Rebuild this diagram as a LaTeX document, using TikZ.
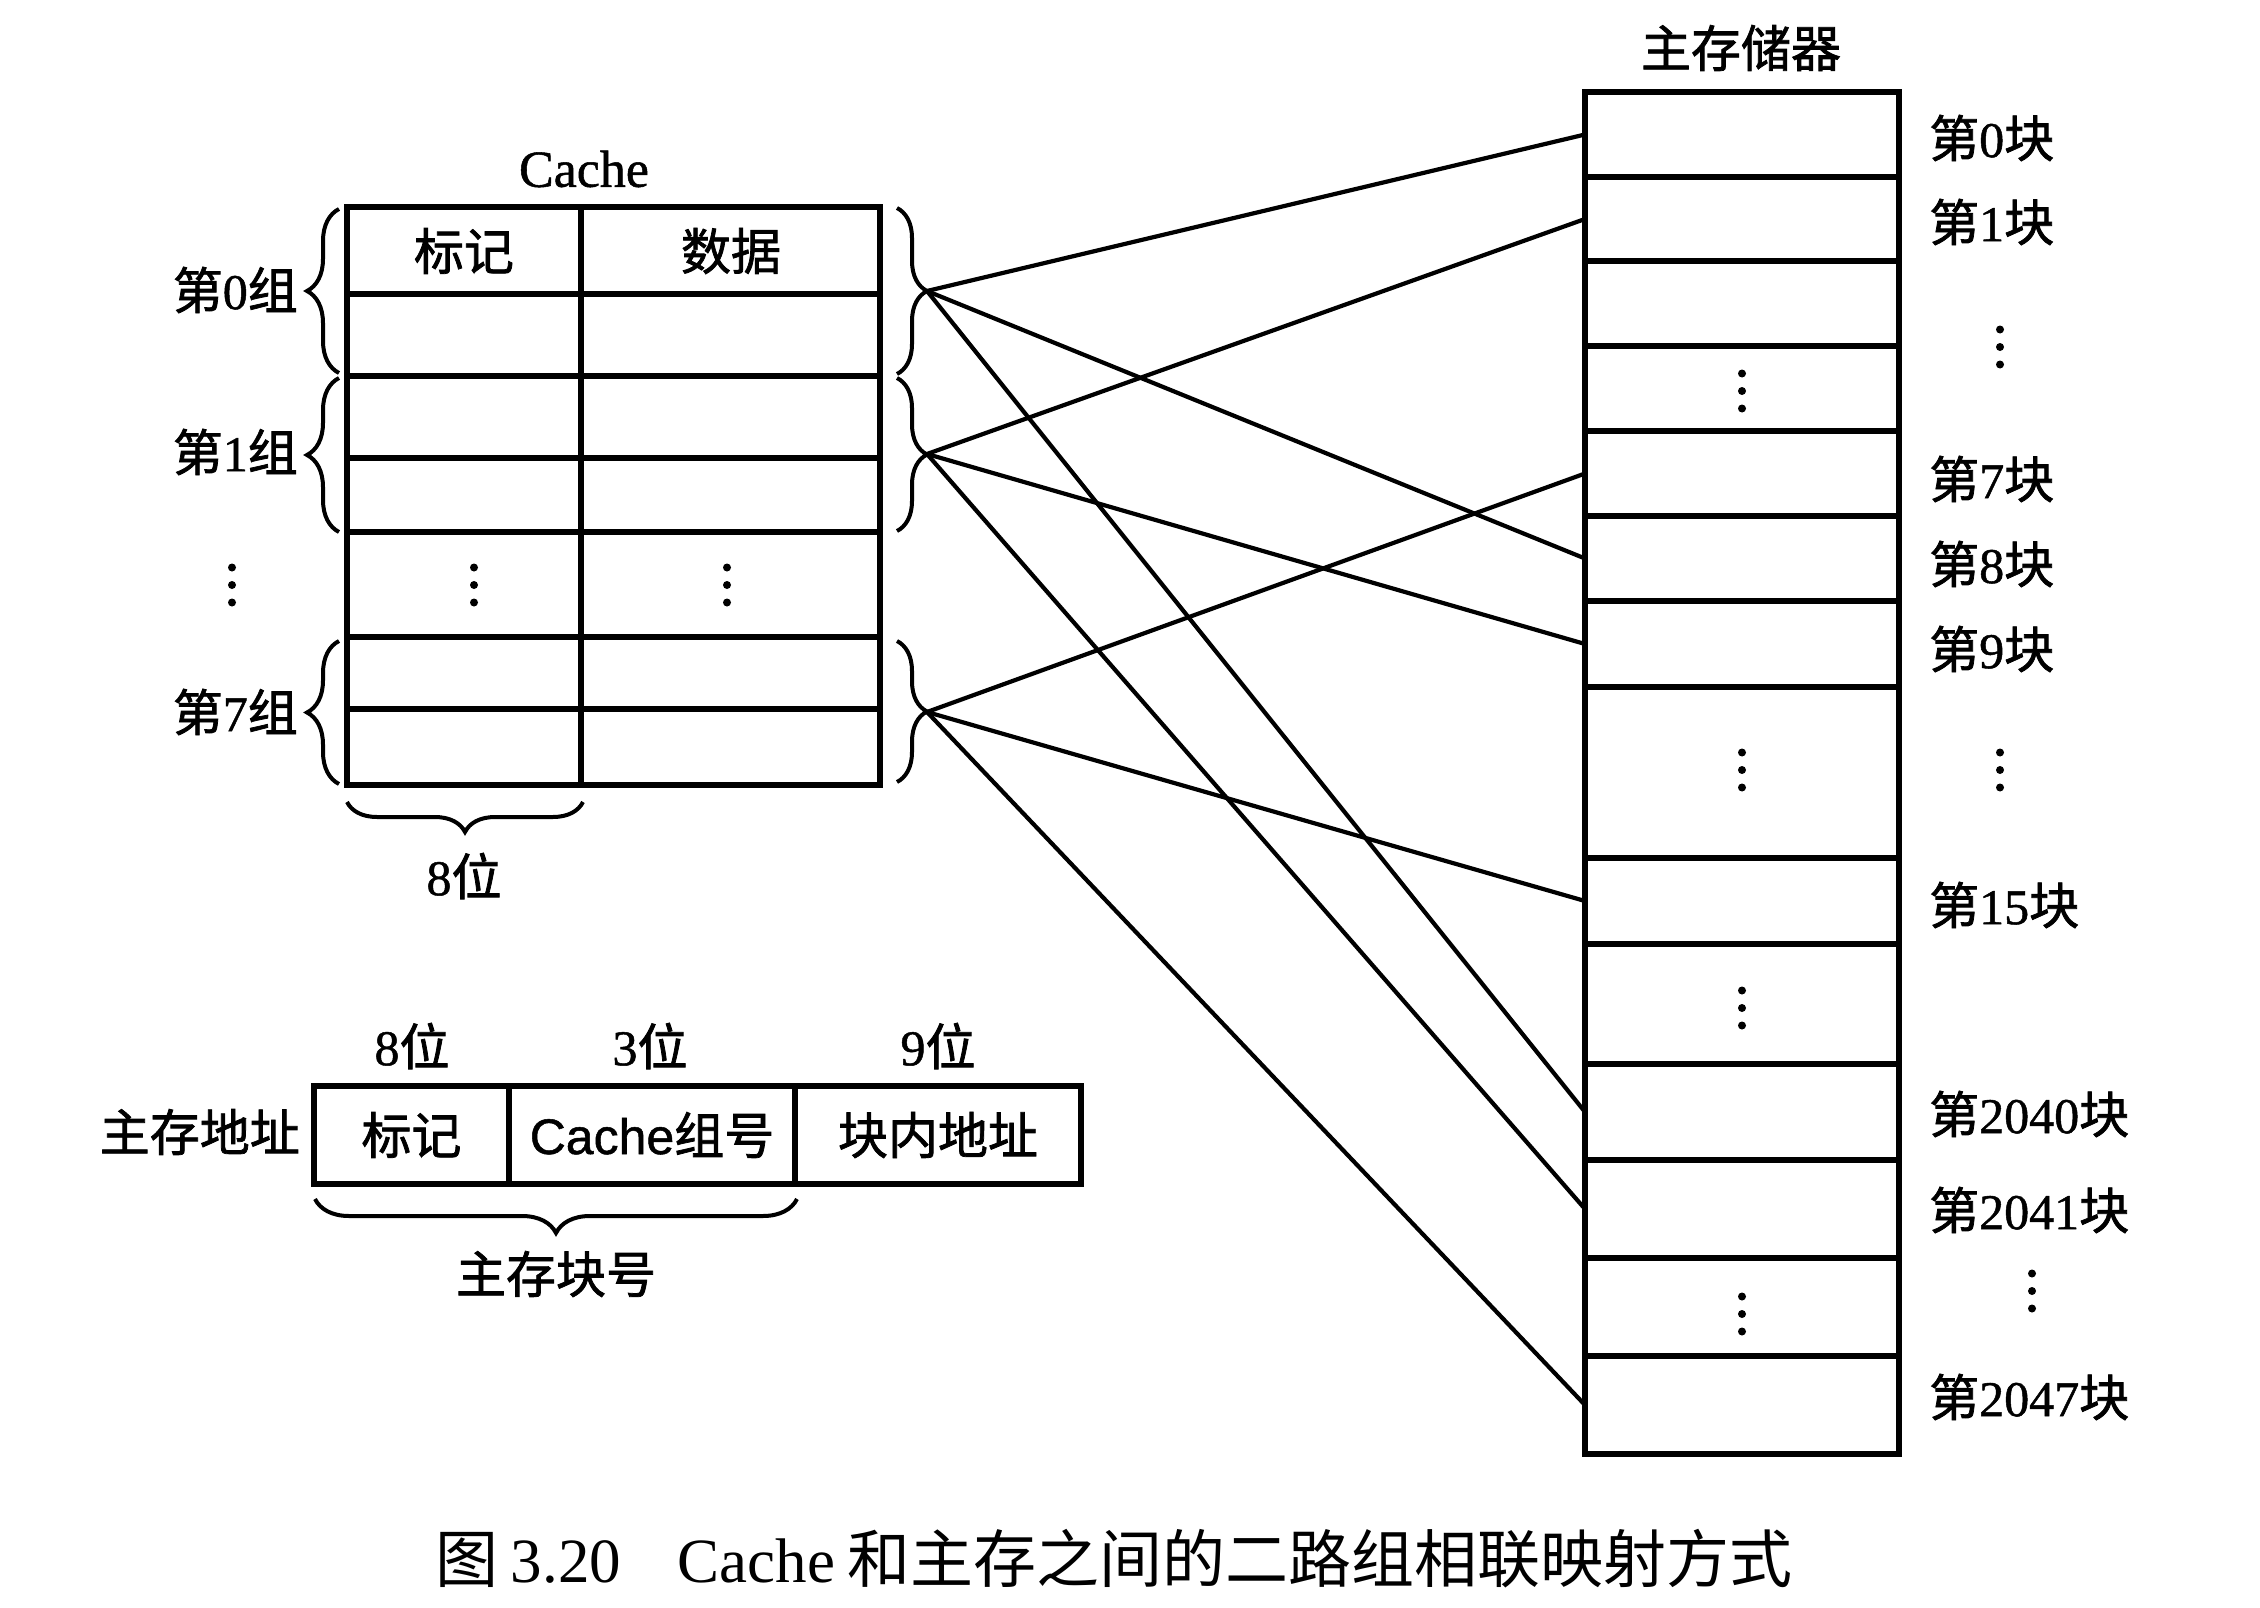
\documentclass[tikz,border=0pt]{standalone}
\usepackage{fontspec}
\setmainfont{Liberation Serif}[FakeBold=1]
\newfontfamily\zhfont{Noto Sans CJK SC}[FakeBold=1.5]
\newfontfamily\arialfont{Liberation Sans}[FakeBold=1]
\newfontfamily\capzh{Noto Sans CJK SC}
\newfontfamily\caplat{Liberation Serif}
\usetikzlibrary{decorations.pathreplacing}
\newcommand\zh[1]{{\zhfont #1}}
\newcommand\vdotsat[2]{\fill (#1,#2-17.5) circle (4pt) (#1,#2) circle (4pt) (#1,#2+17.5) circle (4pt);}
\begin{document}
\begin{tikzpicture}[x=1pt,y=-1pt,
  cell/.style={draw, line width=6pt, outer sep=0pt, inner sep=0pt, anchor=north west,
               font=\fontsize{50}{60}\selectfont},
  txt/.style={inner sep=0pt, font=\fontsize{50}{60}\selectfont},
  lbl/.style={txt, anchor=west},
  conn/.style={line width=4.2pt},
  brc/.style={decorate, decoration={brace, amplitude=#1pt}, line width=4pt},
]
\useasboundingbox (0,0) rectangle (2260,1608);
\fill[white] (0,0) rectangle (2260,1608);

% ---------------- Cache ----------------
\node[txt, font=\fontsize{52}{60}\selectfont] (ctitle) at (584,169) {Cache};
\foreach \n/\t/\b in {1/207/294,2/294/376,3/376/458,4/458/532,5/532/637,6/637/709,7/709/785}{
  \node[cell, minimum width=234pt, minimum height={(\b-\t)*1pt}] (cL\n) at (347,\t) {};
  \node[cell, minimum width=299pt, minimum height={(\b-\t)*1pt}] (cR\n) at (581,\t) {};
}
\node[txt] (hTag) at (464,251) {\zh{标记}};
\node[txt] (hData) at (731,251) {\zh{数据}};
\vdotsat{474}{585}
\vdotsat{727}{585}

% group labels
\node[txt, anchor=east] (gl0) at (298,290) {\zh{第}0\zh{组}};
\node[txt, anchor=east] (gl1) at (298,452) {\zh{第}1\zh{组}};
\node[txt, anchor=east] (gl7) at (298,712) {\zh{第}7\zh{组}};
\vdotsat{232}{585}

% left braces
\draw[brc=32] (339,373) -- (339,209);
\draw[brc=32] (339,532) -- (339,378);
\draw[brc=32] (339,784) -- (339,641);
% right braces
\draw[brc=30] (897,208) -- (897,374);
\draw[brc=30] (897,378) -- (897,531);
\draw[brc=30] (897,641) -- (897,782);
\coordinate (g0) at (927,291);
\coordinate (g1) at (927,454);
\coordinate (g7) at (927,712);

% 8 bit brace
\draw[brc=30] (583,802) -- (347,802);
\node[txt] (b8) at (464,876) {8\zh{位}};

% ---------------- Main memory ----------------
\node[txt] (mtitle) at (1741,48) {\zh{主存储器}};
\foreach \nm/\t/\b in {m0/92/177, m1/177/261, mA/261/346, mB/346/431, m7/431/516,
  m8/516/601, m9/601/687, mC/687/858, m15/858/944, mD/944/1064, m2040/1064/1160,
  m2041/1160/1258, mE/1258/1356, m2047/1356/1454}{
  \node[cell, minimum width=314pt, minimum height={(\b-\t)*1pt}] (\nm) at (1585,\t) {};
}
\vdotsat{1742}{391}
\vdotsat{1742}{770}
\vdotsat{1742}{1008}
\vdotsat{1742}{1314}

\node[lbl] (l0) at (1929,138) {\zh{第}0\zh{块}};
\node[lbl] (l1) at (1929,222) {\zh{第}1\zh{块}};
\node[lbl] (l7) at (1929,479) {\zh{第}7\zh{块}};
\node[lbl] (l8) at (1929,564) {\zh{第}8\zh{块}};
\node[lbl] (l9) at (1929,649) {\zh{第}9\zh{块}};
\node[lbl] (l15) at (1929,905) {\zh{第}15\zh{块}};
\node[lbl] (l2040) at (1929,1114) {\zh{第}2040\zh{块}};
\node[lbl] (l2041) at (1929,1210) {\zh{第}2041\zh{块}};
\node[lbl] (l2047) at (1929,1397) {\zh{第}2047\zh{块}};
\vdotsat{2000}{347}
\vdotsat{2000}{770}
\vdotsat{2032}{1291}

% ---------------- Connectors ----------------
\draw[conn] (g0) -- (m0.west);
\draw[conn] (g0) -- (m8.west);
\draw[conn] (g0) -- (m2040.west);
\draw[conn] (g1) -- (m1.west);
\draw[conn] (g1) -- (m9.west);
\draw[conn] (g1) -- (m2041.west);
\draw[conn] (g7) -- (m7.west);
\draw[conn] (g7) -- (m15.west);
\draw[conn] (g7) -- (m2047.west);

% ---------------- Address format ----------------
\node[cell, minimum width=195pt, minimum height=98pt] (a1) at (314,1086) {\zh{标记}};
\node[cell, minimum width=286pt, minimum height=98pt] (a2) at (509,1086) {{\arialfont Cache}\zh{组号}};
\node[cell, minimum width=286pt, minimum height=98pt] (a3) at (795,1086) {\zh{块内地址}};
\node[txt, anchor=east] (addr) at (300,1132) {\zh{主存地址}};
\node[txt] (w1) at (412,1046) {8\zh{位}};
\node[txt] (w2) at (650,1046) {3\zh{位}};
\node[txt] (w3) at (938,1046) {9\zh{位}};
\draw[brc=34] (797,1199) -- (315,1199);
\node[txt] (blk) at (556,1274) {\zh{主存块号}};

% ---------------- Caption ----------------
\node[inner sep=0pt, font=\fontsize{63}{70}\selectfont\caplat] (cap) at (1114,1559)
  {{\capzh 图}\hspace{0.2em}3.20\hspace{0.9em}Cache\hspace{0.2em}{\capzh 和主存之间的二路组相联映射方式}};
\end{tikzpicture}
\end{document}
